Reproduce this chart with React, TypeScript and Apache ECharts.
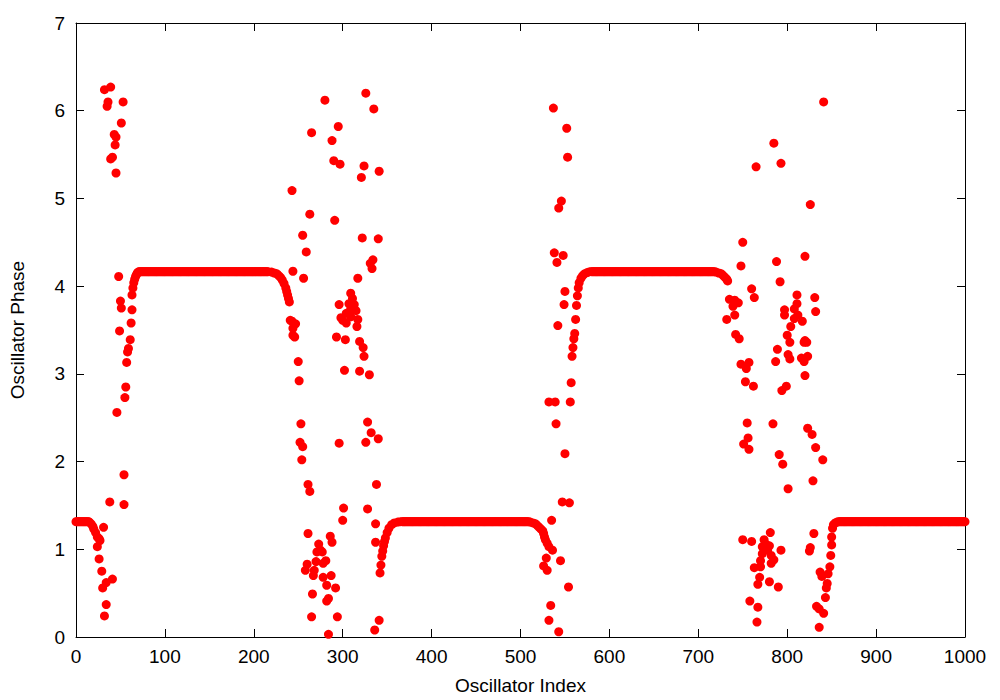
import React, { useEffect, useRef } from "react";
import * as echarts from "echarts";

// x tick and y tick values
const xTicks = [0, 100, 200, 300, 400, 500, 600, 700, 800, 900, 1000];
const yTicks = [0, 1, 2, 3, 4, 5, 6, 7];

// Coherent plateaus: [firstIndex, lastIndex, phase]
const plateaus: [number, number, number][] = [
  [0, 14, 1.315],
  [72, 215, 4.165],
  [367, 509, 1.315],
  [580, 718, 4.165],
  [858, 1000, 1.315],
];

// Edges of the coherent regions
const edgeA: [number, number][] = [
  [15, 1.31], [17, 1.29], [19, 1.26], [20, 1.23], [22, 1.19], [24, 1.14], [26, 1.12], [27, 1.1],
];
const edgeB: [number, number][] = [
  [63, 3.9], [64, 3.98], [65, 4.04], [66, 4.08], [67, 4.11], [68, 4.13], [69, 4.15], [70, 4.16], [71, 4.165],
  [216, 4.165], [220, 4.16], [223, 4.15], [226, 4.14], [228, 4.12], [230, 4.1], [232, 4.07], [234, 4.03],
  [236, 3.98], [237, 3.94], [238, 3.9], [239, 3.86], [240, 3.82],
];
const edgeC: [number, number][] = [
  [342, 0.73], [343, 0.82], [344, 0.92], [345, 0.98], [346, 1.04], [347, 1.09], [348, 1.13], [350, 1.19],
  [352, 1.24], [355, 1.28], [358, 1.3], [362, 1.31], [365, 1.315],
  [511, 1.31], [514, 1.3], [517, 1.29], [519, 1.27], [521, 1.25], [523, 1.23], [525, 1.21], [526, 1.18],
  [527, 1.14], [528, 1.11], [530, 1.07], [532, 1.03], [536, 0.99],
];
const edgeD: [number, number][] = [
  [557, 2.9], [558, 3.2], [559, 3.3], [560, 3.4], [561, 3.46], [562, 3.62], [563, 3.78], [564, 3.89],
  [565, 3.98], [566, 4.04], [568, 4.09], [570, 4.12], [572, 4.14], [575, 4.155], [578, 4.165],
  [720, 4.16], [723, 4.15], [726, 4.14], [728, 4.12], [730, 4.1], [732, 4.08], [733, 4.06],
];
const edgeE: [number, number][] = [
  [843, 0.45], [844, 0.56], [845, 0.61], [846, 0.72], [848, 0.8], [849, 0.93], [850, 1.05], [850, 1.14],
  [851, 1.24], [852, 1.28], [854, 1.3], [856, 1.31],
];

// Incoherent (scattered) oscillators
const incoherent1: [number, number][] = [
  [62, 3.58], [49, 3.49], [61, 3.39], [59, 3.29], [58, 3.25], [57, 3.13], [56, 2.85], [55, 2.73], [46, 2.56],
  [54, 1.85], [38, 1.54], [54, 1.51], [31, 1.25], [24, 1.03], [26, 0.89], [29, 0.75], [41, 0.66], [34, 0.62],
  [30, 0.56], [34, 0.37], [32, 0.24], [32, 6.24], [39, 6.27], [36, 6.1], [35, 6.05], [53, 6.1], [51, 5.86],
  [43, 5.73], [45, 5.7], [44, 5.61], [41, 5.47], [39, 5.45], [45, 5.29], [48, 4.11], [50, 3.83], [51, 3.75],
  [63, 3.73],
];
const incoherent2: [number, number][] = [
  [326, 6.2], [280, 6.12], [335, 6.02], [265, 5.75], [295, 5.82], [288, 5.66], [290, 5.43], [297, 5.39],
  [324, 5.37], [321, 5.24], [341, 5.31], [243, 5.09], [263, 4.82], [291, 4.75], [255, 4.58], [322, 4.55],
  [340, 4.54], [259, 4.39], [334, 4.3], [331, 4.26], [333, 4.2], [244, 4.17], [256, 4.09], [317, 4.09],
  [296, 3.79], [309, 3.92], [311, 3.86], [307, 3.8], [313, 3.79], [309, 3.74], [315, 3.72], [304, 3.69],
  [309, 3.65], [298, 3.64], [241, 3.61], [317, 3.62], [243, 3.6], [247, 3.57], [244, 3.52], [246, 3.42],
  [244, 3.44], [304, 3.58], [300, 3.61], [316, 3.54], [293, 3.42], [303, 3.39], [319, 3.37], [323, 3.3],
  [324, 3.2], [250, 3.14], [302, 3.04], [319, 3.03], [330, 2.99], [251, 2.92], [328, 2.45], [332, 2.33],
  [340, 2.26], [326, 2.22], [253, 2.43], [252, 2.22], [255, 2.17], [254, 2.02], [296, 2.21], [261, 1.74],
  [263, 1.66], [338, 1.74], [301, 1.47], [328, 1.46], [300, 1.33], [337, 1.29], [261, 1.18], [337, 1.08],
  [286, 1.15], [288, 1.08], [273, 1.06], [275, 0.99], [271, 0.97], [277, 0.97], [281, 0.87], [278, 0.84],
  [270, 0.86], [260, 0.83], [258, 0.76], [268, 0.76], [267, 0.7], [287, 0.7], [278, 0.68], [282, 0.59],
  [292, 0.56], [266, 0.49], [284, 0.44], [282, 0.41], [265, 0.23], [294, 0.23], [284, 0.03], [341, 0.19],
  [336, 0.08],
];
const incoherent3: [number, number][] = [
  [537, 6.03], [552, 5.8], [553, 5.47], [546, 4.97], [543, 4.89], [538, 4.38], [548, 4.35], [541, 4.27],
  [550, 3.94], [549, 3.79], [542, 3.55], [532, 2.68], [539, 2.68], [556, 2.68], [540, 2.43], [550, 2.09],
  [547, 1.54], [555, 1.53], [535, 1.33], [529, 0.9], [526, 0.81], [530, 0.76], [545, 0.87], [554, 0.57],
  [534, 0.36], [532, 0.19], [543, 0.06],
];
const incoherent4: [number, number][] = [
  [841, 6.1], [785, 5.63], [765, 5.36], [793, 5.4], [826, 4.93], [750, 4.5], [748, 4.23], [788, 4.28],
  [820, 4.34], [792, 4.05], [760, 3.97], [763, 3.87], [811, 3.9], [811, 3.8], [808, 3.74], [812, 3.67],
  [808, 3.63], [804, 3.54], [817, 3.6], [831, 3.87], [832, 3.71], [797, 3.73], [797, 3.67], [800, 3.44],
  [735, 3.85], [741, 3.84], [745, 3.81], [739, 3.77], [741, 3.67], [732, 3.62], [742, 3.45], [746, 3.4],
  [820, 3.38], [803, 3.36], [819, 3.36], [822, 3.36], [789, 3.28], [801, 3.22], [803, 3.17], [816, 3.18],
  [823, 3.2], [819, 3.14], [787, 3.14], [748, 3.11], [757, 3.13], [754, 3.06], [820, 2.98], [753, 2.91],
  [762, 2.86], [799, 2.86], [794, 2.81], [755, 2.44], [784, 2.43], [823, 2.38], [828, 2.31], [756, 2.27],
  [751, 2.2], [757, 2.14], [832, 2.16], [840, 2.02], [791, 2.08], [795, 1.97], [829, 1.78], [801, 1.69],
  [830, 1.18], [826, 1.02], [825, 0.98], [781, 1.19], [750, 1.11], [760, 1.09], [774, 1.11], [776, 1.06],
  [772, 1.03], [780, 1.04], [778, 0.99], [772, 0.95], [782, 0.93], [793, 0.99], [770, 0.87], [785, 0.88],
  [782, 0.84], [763, 0.79], [770, 0.8], [769, 0.68], [767, 0.6], [780, 0.63], [790, 0.57], [758, 0.41],
  [767, 0.34], [766, 0.17], [837, 0.74], [839, 0.69], [833, 0.35], [836, 0.32], [841, 0.27], [836, 0.11],
];

const FONT = "Liberation Sans, Arial, Helvetica, sans-serif";

export default function App() {
  const ref = useRef<HTMLDivElement>(null);
  useEffect(() => {
    if (!ref.current) return;
    const chart = echarts.init(ref.current, undefined, { renderer: "svg" });

    const points: [number, number][] = [];
    for (const [a, b, v] of plateaus) {
      for (let i = a; i <= b; i++) points.push([i, v]);
    }
    points.push(...edgeA, ...edgeB, ...edgeC, ...edgeD, ...edgeE);
    points.push(...incoherent1, ...incoherent2, ...incoherent3, ...incoherent4);

    const xMin = xTicks[0];
    const xMax = xTicks[xTicks.length - 1];
    const yMin = yTicks[0];
    const yMax = yTicks[yTicks.length - 1];
    const lineStyle = { color: "#000", width: 1 };
    const tick = { show: true, inside: true, length: 8, lineStyle: { color: "#000", width: 1 } };
    const label = {
      color: "#000",
      fontSize: 19,
      fontFamily: FONT,
      formatter: (v: number) => String(v),
    };

    chart.setOption({
      animation: false,
      backgroundColor: "#fff",
      grid: { left: 72, top: 23, right: 35, bottom: 63, containLabel: false },
      xAxis: [
        {
          type: "value",
          min: xMin,
          max: xMax,
          interval: 100,
          position: "bottom",
          axisLine: { show: true, onZero: false, lineStyle },
          axisTick: tick,
          axisLabel: { ...label, margin: 10 },
          splitLine: { show: false },
          name: "Oscillator Index",
          nameLocation: "middle",
          nameGap: 39,
          nameTextStyle: { color: "#000", fontSize: 19, fontFamily: FONT },
        },
        {
          type: "value",
          min: xMin,
          max: xMax,
          interval: 100,
          position: "top",
          axisLine: { show: true, onZero: false, lineStyle },
          axisTick: tick,
          axisLabel: { show: false },
          splitLine: { show: false },
        },
      ],
      yAxis: [
        {
          type: "value",
          min: yMin,
          max: yMax,
          interval: 1,
          position: "left",
          axisLine: { show: true, onZero: false, lineStyle },
          axisTick: tick,
          axisLabel: { ...label, margin: 11 },
          splitLine: { show: false },
          name: "Oscillator Phase",
          nameLocation: "middle",
          nameGap: 49,
          nameTextStyle: { color: "#000", fontSize: 19, fontFamily: FONT },
        },
        {
          type: "value",
          min: yMin,
          max: yMax,
          interval: 1,
          position: "right",
          axisLine: { show: true, onZero: false, lineStyle },
          axisTick: tick,
          axisLabel: { show: false },
          splitLine: { show: false },
        },
      ],
      series: [
        {
          type: "scatter",
          xAxisIndex: 0,
          yAxisIndex: 0,
          data: points,
          symbol: "circle",
          symbolSize: 9,
          itemStyle: { color: "#ff0000", opacity: 1 },
          clip: false,
        },
      ],
    });
    return () => chart.dispose();
  }, []);
  return (
    <div
      ref={ref}
      style={{ position: "absolute", left: 0, top: 0, width: 1000, height: 700 }}
    />
  );
}
